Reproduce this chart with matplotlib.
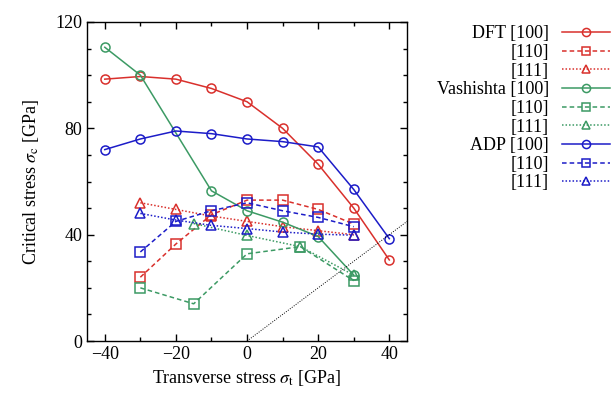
import numpy as np
import matplotlib
matplotlib.use("Agg")
import matplotlib.pyplot as plt

plt.rcParams['font.family'] = ['Liberation Serif', 'DejaVu Serif']
plt.rcParams['mathtext.fontset'] = 'stix'

# transverse stress points
x_full = [-40, -30, -20, -10, 0, 10, 20, 30, 40]
x_mid = [-30, -20, -10, 0, 10, 20, 30]

dft_100 = [98.5, 99.5, 98.5, 95, 90, 80, 66.5, 50, 30.5]
dft_110 = [24, 36.5, 47.5, 53, 53, 49.5, 44]
dft_111 = [52, 49.5, 47, 45, 43, 41.5, 40]

vash_100_x = [-40, -30, -10, 0, 10, 20, 30]
vash_100 = [110.5, 100, 56.5, 49, 44.7, 39.3, 24.8]
vash_110_x = [-30, -15, 0, 15, 30]
vash_110 = [20, 14, 32.8, 35.5, 22.7]
vash_111_x = [-15, 0, 15, 30]
vash_111 = [44.2, 39.7, 35.5, 24.8]

adp_100 = [72, 76, 79, 78, 76, 75, 73, 57, 38.5]
adp_110 = [33.5, 45, 49, 52, 49, 46.5, 43]
adp_111 = [48, 45.5, 43.5, 42.3, 41, 40.2, 39.8]

diag = [0, 45]

red = '#d9302c'
green = '#3c9a64'
blue = '#1c1cc8'

fig = plt.figure(figsize=(6.14, 3.97), dpi=100)
ax = fig.add_axes([0.1417, 0.141, 0.5213, 0.8036])

ms = 6.5
lw = 1.1
dash = (0, (3, 2))
dot = (0, (1, 1.3))

def curve(x, y, c, ls, m, lab):
    ax.plot(x, y, color=c, ls=ls, lw=lw, marker=m, ms=ms, mfc='none',
            mec=c, mew=1.1, label=lab)

curve(x_full, dft_100, red, '-', 'o', 'DFT [100]')
curve(x_mid, dft_110, red, dash, 's', '[110]')
curve(x_mid, dft_111, red, dot, '^', '[111]')
curve(vash_100_x, vash_100, green, '-', 'o', 'Vashishta [100]')
curve(vash_110_x, vash_110, green, dash, 's', '[110]')
curve(vash_111_x, vash_111, green, dot, '^', '[111]')
curve(x_full, adp_100, blue, '-', 'o', 'ADP [100]')
curve(x_mid, adp_110, blue, dash, 's', '[110]')
curve(x_mid, adp_111, blue, dot, '^', '[111]')

ax.plot(diag, diag, color='black', ls=(0, (1, 1.5)), lw=0.7)

ax.set_xlim(-45, 45)
ax.set_ylim(0, 120)
ax.set_xticks([-40, -20, 0, 20, 40])
ax.set_xticks(np.arange(-40, 41, 10), minor=True)
ax.set_yticks([0, 40, 80, 120])
ax.set_yticks(np.arange(0, 121, 10), minor=True)
ax.tick_params(which='both', direction='in', top=True, right=True,
               labelsize=13, width=1.0)
ax.tick_params(which='major', length=5)
ax.tick_params(which='minor', length=3)
for s in ax.spines.values():
    s.set_linewidth(1.0)

ax.set_xlabel(r'Transverse stress $\sigma_{\rm t}$ [GPa]', fontsize=13, labelpad=4)
ax.set_ylabel(r'Critical stress $\sigma_{\rm c}$ [GPa]', fontsize=13, labelpad=10)

leg = ax.legend(loc='upper right', bbox_to_anchor=(1.0, 0.945),
                bbox_transform=fig.transFigure, frameon=False,
                markerfirst=False, fontsize=13, handlelength=2.7,
                handletextpad=0.7, labelspacing=0.09, borderaxespad=0,
                borderpad=0.2, markerscale=0.9)

fig.savefig('out.png', dpi=100)
